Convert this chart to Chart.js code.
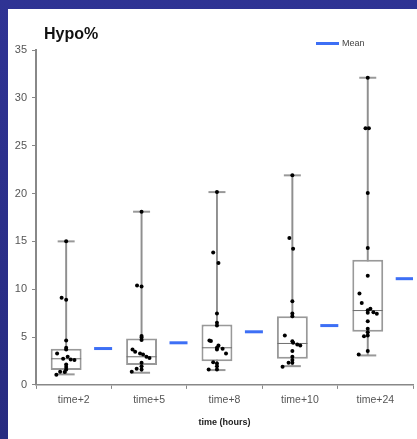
<!DOCTYPE html>
<html>
<head>
<meta charset="utf-8">
<script src="https://cdn.jsdelivr.net/npm/chart.js@4.4.0/dist/chart.umd.min.js"></script>
<style>
  body {
    margin: 0;
    width: 417px;
    height: 439px;
    overflow: hidden;
    background: linear-gradient(to bottom, #2f3394, #272b80);
    font-family: "Liberation Sans", Arial, sans-serif;
  }
  #slide {
    position: absolute;
    left: 8px;
    top: 9px;
    width: 409px;
    height: 430px;
    background: #fff;
    overflow: hidden;
  }
  #boxchart {
    position: absolute;
    left: 0;
    top: 0;
  }
  #title {
    position: absolute;
    left: 36px;
    top: 17px;
    font-size: 16px;
    line-height: 16px;
    font-weight: bold;
    color: #111;
  }
  #legend {
    position: absolute;
    left: 308px;
    top: 29px;
    height: 10px;
    display: flex;
    align-items: center;
    font-size: 9px;
    color: #444;
  }
  #legend .swatch {
    display: inline-block;
    width: 23px;
    height: 3px;
    margin-right: 3px;
  }
</style>
</head>
<body>
<div id="slide">
  <canvas id="boxchart" width="421" height="430"></canvas>
  <div id="title">Hypo%</div>
  <div id="legend"></div>
</div>
<script>
// groups on the x axis
var categories = ['time+2', 'time+5', 'time+8', 'time+10', 'time+24'];

// box plot summaries per group
var minVals    = [1.1, 1.27, 1.55, 1.96, 3.08];
var q1Vals     = [1.55, 2.07, 2.48, 2.73, 5.55];
var medianVals = [2.73, 2.94, 3.88, 4.33, 7.77];
var q3Vals     = [3.78, 4.85, 6.31, 7.18, 13.09];
var maxVals    = [15.0, 18.1, 20.15, 21.9, 32.1];
var meanVals   = [3.8, 4.4, 5.55, 6.2, 11.1];

// individual patients per group
var hypo2  = [15.0, 9.1, 8.9, 4.64, 3.88, 3.7, 3.29, 2.94, 2.73, 2.66, 2.59, 2.14, 1.86, 1.62, 1.38, 1.34, 1.06];
var hypo5  = [18.1, 10.38, 10.28, 5.1, 4.95, 4.7, 3.7, 3.46, 3.29, 3.18, 2.94, 2.8, 2.31, 1.96, 1.69, 1.62, 1.38];
var hypo8  = [20.15, 13.85, 12.74, 7.46, 6.49, 6.2, 4.64, 4.6, 4.12, 3.88, 3.78, 3.7, 3.29, 2.38, 2.24, 1.96, 1.62, 1.62];
var hypo10 = [21.9, 15.35, 14.24, 8.74, 7.46, 7.18, 5.16, 4.57, 4.4, 4.22, 4.12, 3.53, 2.94, 2.59, 2.31, 2.31, 1.9];
var hypo24 = [32.1, 26.83, 26.83, 20.05, 14.31, 11.42, 9.55, 8.57, 7.95, 7.8, 7.6, 7.53, 7.43, 6.66, 5.86, 5.51, 5.16, 5.09, 3.53, 3.18];

// sideways spread of the dots so they don't sit on top of each other
var spread2  = [0, -0.06, 0, 0, 0, 0, -0.12, 0.02, -0.04, 0.06, 0.11, 0, 0, 0, -0.08, -0.02, -0.13];
var spread5  = [0, -0.06, 0, 0, 0, 0, -0.12, -0.085, -0.02, 0.02, 0.065, 0.105, 0, 0, -0.065, 0, -0.13];
var spread8  = [0, -0.05, 0.02, 0, 0, 0, -0.1, -0.08, 0.02, 0, 0.075, 0, 0.12, -0.05, 0, 0, -0.11, 0];
var spread10 = [0, -0.04, 0.01, 0, 0, 0, -0.1, 0, 0.01, 0.065, 0.105, 0, 0, 0, -0.05, 0, -0.13];
var spread24 = [0, -0.03, 0.015, 0, 0, 0, -0.11, -0.08, 0.035, 0, 0.075, 0, 0.12, 0, 0, 0, 0, -0.05, 0, -0.12];

var yTicks = [0, 5, 10, 15, 20, 25, 30, 35];

var BOX_SHIFT = -0.1;   // box sits a little left of the group centre
var MEAN_SHIFT = 0.39;  // mean dash sits at the right of the group
var MEAN_COLOR = '#3d6ff5';
var GREY = '#999999';

var groups = [hypo2, hypo5, hypo8, hypo10, hypo24];
var spreads = [spread2, spread5, spread8, spread10, spread24];

var dots = [];
groups.forEach(function (vals, i) {
    vals.forEach(function (v, k) {
        dots.push({x: i + BOX_SHIFT + spreads[i][k], y: v});
    });
});

var boxes = [], whiskers = [], medians = [], caps = [], means = [];
categories.forEach(function (c, i) {
    var x = i + BOX_SHIFT;
    boxes.push({x: x, y: [q1Vals[i], q3Vals[i]]});
    whiskers.push({x: x, y: [minVals[i], maxVals[i]]});
    medians.push({x: x, y: medianVals[i]});
    caps.push({x: x, y: minVals[i]});
    caps.push({x: x, y: maxVals[i]});
    means.push({x: i + MEAN_SHIFT, y: meanVals[i]});
});

var ctx = document.getElementById('boxchart').getContext('2d');

var boxchart = new Chart(ctx, {
    type: 'bar',
    data: {
        labels: categories,
        datasets: [
            {
                type: 'line', label: 'Patients', data: dots, xAxisID: 'xv',
                showLine: false, pointRadius: 2, pointBorderWidth: 0,
                pointBackgroundColor: '#000', order: 0
            },
            {
                type: 'line', label: 'Median', data: medians, xAxisID: 'xv',
                showLine: false, pointStyle: 'line', pointRadius: 15,
                pointBorderColor: '#6e6e6e', pointBorderWidth: 1, order: 1
            },
            {
                type: 'line', label: 'Mean', data: means, xAxisID: 'xv',
                showLine: false, pointStyle: 'line', pointRadius: 9,
                borderColor: MEAN_COLOR, pointBorderColor: MEAN_COLOR,
                pointBorderWidth: 3, order: 1, inLegend: true
            },
            {
                type: 'line', label: 'Range', data: caps, xAxisID: 'xv',
                showLine: false, pointStyle: 'line', pointRadius: 8.5,
                pointBorderColor: GREY, pointBorderWidth: 2, order: 2
            },
            {
                label: 'IQR', data: boxes, xAxisID: 'xv',
                backgroundColor: '#ffffff', borderColor: GREY, borderWidth: 2,
                borderSkipped: false, grouped: false,
                categoryPercentage: 1, barPercentage: 0.41, order: 3
            },
            {
                label: 'Whisker', data: whiskers, xAxisID: 'xv',
                backgroundColor: '#8f8f8f', borderWidth: 0, grouped: false,
                categoryPercentage: 1, barPercentage: 0.026, order: 4
            }
        ]
    },
    options: {
        responsive: false,
        animation: false,
        layout: {padding: {top: 41, right: 0, bottom: 6.7, left: 0}},
        plugins: {
            legend: {display: false},
            tooltip: {enabled: false}
        },
        scales: {
            x: {
                type: 'category',
                offset: true,
                grid: {offset: true, drawOnChartArea: false, tickLength: 4, color: '#888'},
                border: {color: '#888', width: 1.5},
                ticks: {
                    autoSkip: false, maxRotation: 0, padding: 5,
                    color: '#555', font: {family: 'Liberation Sans', size: 10.5}
                },
                title: {
                    display: true, text: 'time (hours)', color: '#222',
                    font: {family: 'Liberation Sans', size: 9, weight: 'bold'},
                    padding: {top: 6, bottom: 4}
                }
            },
            // hidden numeric twin of the category axis, used to place marks
            xv: {
                type: 'linear', display: false, offset: false,
                min: -0.5, max: categories.length - 0.5,
                afterBuildTicks: function (scale) {
                    scale.ticks = categories.map(function (c, i) { return {value: i}; });
                }
            },
            y: {
                min: 0,
                max: 35,
                afterBuildTicks: function (scale) {
                    scale.ticks = yTicks.map(function (v) { return {value: v}; });
                },
                afterFit: function (scale) { scale.width = 28; },
                grid: {drawOnChartArea: false, tickLength: 4, color: '#888'},
                border: {color: '#888', width: 2},
                ticks: {
                    padding: 5, color: '#555',
                    font: {family: 'Liberation Sans', size: 11}
                }
            }
        }
    }
});

// small html legend, only for the mean dashes
var legend = document.getElementById('legend');
boxchart.data.datasets.forEach(function (ds) {
    if (!ds.inLegend) return;
    var sw = document.createElement('span');
    sw.className = 'swatch';
    sw.style.background = ds.borderColor;
    legend.appendChild(sw);
    legend.appendChild(document.createTextNode(ds.label));
});
</script>
</body>
</html>
